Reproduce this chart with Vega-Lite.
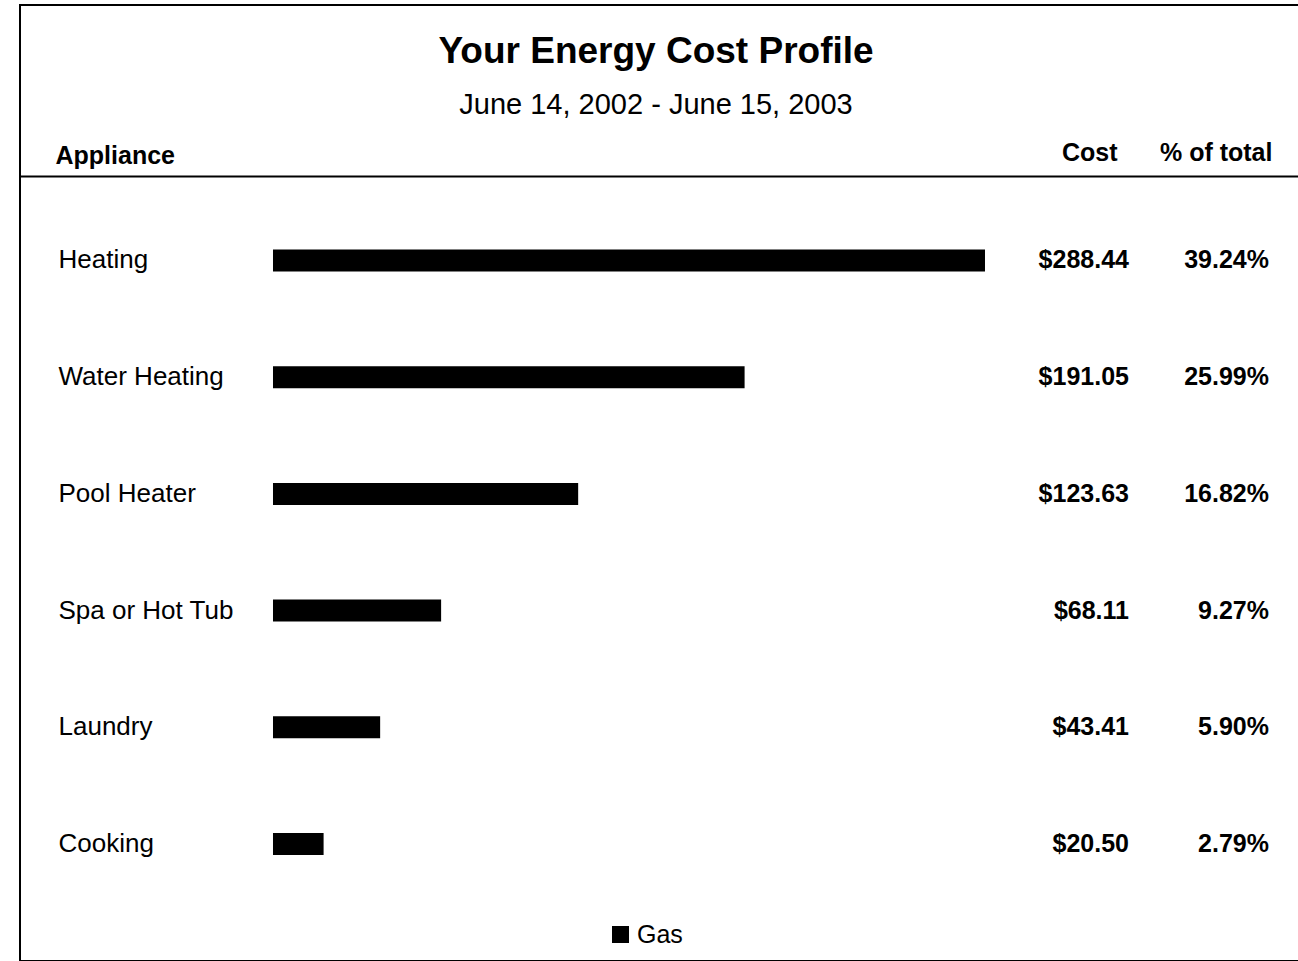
{
  "$schema": "https://vega.github.io/schema/vega-lite/v6.json",
  "width": 1280,
  "height": 956,
  "autosize": {"type": "none"},
  "padding": {"left": 20, "top": 5, "right": 0, "bottom": 0},
  "background": "white",
  "title": {
    "text": "Your Energy Cost Profile",
    "subtitle": "June 14, 2002 - June 15, 2003",
    "anchor": "middle",
    "frame": "group",
    "offset": -116,
    "dx": -4,
    "font": "Liberation Sans",
    "fontSize": 37,
    "fontWeight": "bold",
    "color": "black",
    "subtitleFont": "Liberation Sans",
    "subtitleFontSize": 29,
    "subtitleColor": "black",
    "subtitlePadding": 20
  },
  "config": {
    "view": {"stroke": "black", "strokeWidth": 2},
    "axis": {"grid": false}
  },
  "data": {
    "values": [
      {"appliance": "Heating", "cost": 288.44, "share": 0.3924, "fuel": "Gas"},
      {"appliance": "Water Heating", "cost": 191.05, "share": 0.2599, "fuel": "Gas"},
      {"appliance": "Pool Heater", "cost": 123.63, "share": 0.1682, "fuel": "Gas"},
      {"appliance": "Spa or Hot Tub", "cost": 68.11, "share": 0.0927, "fuel": "Gas"},
      {"appliance": "Laundry", "cost": 43.41, "share": 0.059, "fuel": "Gas"},
      {"appliance": "Cooking", "cost": 20.5, "share": 0.0279, "fuel": "Gas"}
    ]
  },
  "encoding": {
    "y": {
      "field": "appliance",
      "type": "nominal",
      "sort": null,
      "scale": {"range": [244.5, 850], "paddingInner": 0.8115, "paddingOuter": 0, "align": 0.5},
      "axis": {
        "orient": "left",
        "title": "Appliance",
        "titleAngle": 0,
        "titleAlign": "left",
        "titleBaseline": "alphabetic",
        "titleX": 35,
        "titleY": 158,
        "titleFont": "Liberation Sans",
        "titleFontSize": 25,
        "titleFontWeight": "bold",
        "titleColor": "black",
        "domain": false,
        "ticks": false,
        "tickSize": 0,
        "labelAlign": "left",
        "labelBaseline": "middle",
        "labelPadding": -38,
        "labelFont": "Liberation Sans",
        "labelFontSize": 26,
        "labelColor": "black"
      }
    }
  },
  "layer": [
    {
      "mark": {"type": "bar", "strokeWidth": 0},
      "encoding": {
        "x": {
          "field": "cost",
          "type": "quantitative",
          "scale": {"domain": [-102.49, 416.05], "nice": false, "zero": false},
          "axis": {
            "orient": "top",
            "offset": -171,
            "values": [341.9, 404.7],
            "labelExpr": "datum.value < 380 ? 'Cost' : '% of total'",
            "title": null,
            "ticks": false,
            "tickSize": 0,
            "grid": false,
            "domainColor": "black",
            "domainWidth": 2,
            "labelAlign": "right",
            "labelBaseline": "alphabetic",
            "labelPadding": 16,
            "labelFont": "Liberation Sans",
            "labelFontSize": 25,
            "labelFontWeight": "bold",
            "labelColor": "black",
            "labelFlush": false,
            "labelOverlap": false,
            "labelBound": false
          }
        },
        "x2": {"datum": 0},
        "color": {
          "field": "fuel",
          "type": "nominal",
          "scale": {"range": ["black"]},
          "legend": {
            "orient": "none",
            "legendX": 588,
            "legendY": 917,
            "title": null,
            "symbolType": "square",
            "symbolSize": 289,
            "symbolStrokeWidth": 0,
            "labelFont": "Liberation Sans",
            "labelFontSize": 25,
            "labelColor": "black"
          }
        }
      }
    },
    {
      "mark": {"type": "text", "align": "right", "baseline": "middle", "font": "Liberation Sans", "fontSize": 25, "fontWeight": "bold", "color": "black"},
      "encoding": {
        "x": {"datum": 346.77, "type": "quantitative"},
        "text": {"field": "cost", "type": "quantitative", "format": "$.2f"}
      }
    },
    {
      "mark": {"type": "text", "align": "right", "baseline": "middle", "font": "Liberation Sans", "fontSize": 25, "fontWeight": "bold", "color": "black"},
      "encoding": {
        "x": {"datum": 403.49, "type": "quantitative"},
        "text": {"field": "share", "type": "quantitative", "format": ".2%"}
      }
    }
  ]
}
